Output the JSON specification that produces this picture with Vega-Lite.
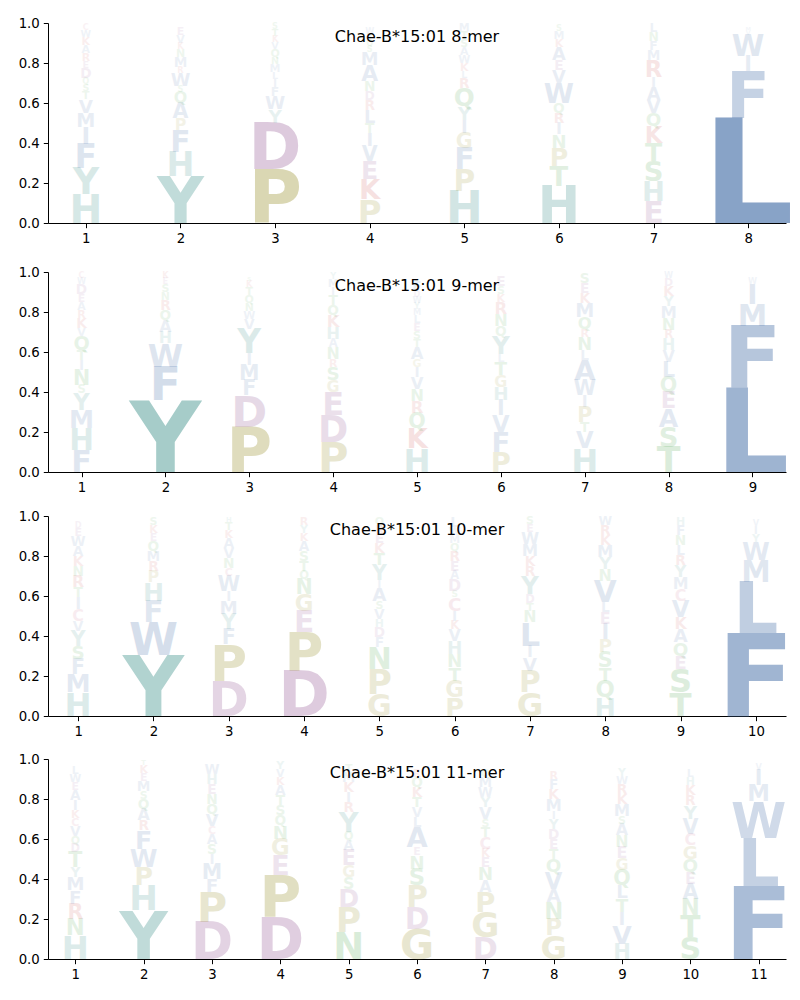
{
"$schema": "https://vega.github.io/schema/vega-lite/v6.json",
"padding": {"left": 18, "top": 16, "right": 0, "bottom": 0},
"spacing": 13,
"config": {"view": {"stroke": null}, "axis": {"domainColor": "black", "tickColor": "black", "labelColor": "black", "labelFont": "DejaVu Sans", "labelFontSize": 13.3, "tickSize": 4.7, "labelPadding": 4, "grid": false, "domainWidth": 1, "tickWidth": 1}, "title": {"font": "DejaVu Sans", "fontSize": 16, "fontWeight": "normal", "color": "black"}},
"data": {"values": [
{"k":8,"p":1,"a":"H","h":0.143},{"k":8,"p":1,"a":"Y","h":0.133},{"k":8,"p":1,"a":"F","h":0.12},{"k":8,"p":1,"a":"I","h":0.085},{"k":8,"p":1,"a":"M","h":0.07},{"k":8,"p":1,"a":"V","h":0.067},{"k":8,"p":1,"a":"T","h":0.04},{"k":8,"p":1,"a":"S","h":0.035},{"k":8,"p":1,"a":"Q","h":0.03},{"k":8,"p":1,"a":"D","h":0.05},{"k":8,"p":1,"a":"E","h":0.035},{"k":8,"p":1,"a":"R","h":0.04},{"k":8,"p":1,"a":"A","h":0.04},{"k":8,"p":1,"a":"K","h":0.04},{"k":8,"p":1,"a":"W","h":0.035},{"k":8,"p":1,"a":"C","h":0.03},
{"k":8,"p":2,"a":"Y","h":0.235},{"k":8,"p":2,"a":"H","h":0.122},{"k":8,"p":2,"a":"F","h":0.108},{"k":8,"p":2,"a":"P","h":0.058},{"k":8,"p":2,"a":"A","h":0.075},{"k":8,"p":2,"a":"Q","h":0.058},{"k":8,"p":2,"a":"S","h":0.03},{"k":8,"p":2,"a":"W","h":0.065},{"k":8,"p":2,"a":"R","h":0.03},{"k":8,"p":2,"a":"M","h":0.05},{"k":8,"p":2,"a":"N","h":0.04},{"k":8,"p":2,"a":"K","h":0.03},{"k":8,"p":2,"a":"V","h":0.04},{"k":8,"p":2,"a":"E","h":0.04},
{"k":8,"p":3,"a":"P","h":0.268},{"k":8,"p":3,"a":"D","h":0.233},{"k":8,"p":3,"a":"Y","h":0.067},{"k":8,"p":3,"a":"W","h":0.067},{"k":8,"p":3,"a":"F","h":0.045},{"k":8,"p":3,"a":"I","h":0.04},{"k":8,"p":3,"a":"L","h":0.035},{"k":8,"p":3,"a":"M","h":0.04},{"k":8,"p":3,"a":"N","h":0.035},{"k":8,"p":3,"a":"Q","h":0.04},{"k":8,"p":3,"a":"V","h":0.035},{"k":8,"p":3,"a":"K","h":0.03},{"k":8,"p":3,"a":"T","h":0.035},{"k":8,"p":3,"a":"S","h":0.03},
{"k":8,"p":4,"a":"P","h":0.118},{"k":8,"p":4,"a":"K","h":0.1},{"k":8,"p":4,"a":"E","h":0.092},{"k":8,"p":4,"a":"V","h":0.075},{"k":8,"p":4,"a":"I","h":0.065},{"k":8,"p":4,"a":"T","h":0.05},{"k":8,"p":4,"a":"L","h":0.065},{"k":8,"p":4,"a":"R","h":0.05},{"k":8,"p":4,"a":"D","h":0.045},{"k":8,"p":4,"a":"N","h":0.05},{"k":8,"p":4,"a":"A","h":0.08},{"k":8,"p":4,"a":"M","h":0.065},{"k":8,"p":4,"a":"S","h":0.03},{"k":8,"p":4,"a":"Q","h":0.03},{"k":8,"p":4,"a":"Y","h":0.03},{"k":8,"p":4,"a":"W","h":0.03},
{"k":8,"p":5,"a":"H","h":0.16},{"k":8,"p":5,"a":"P","h":0.108},{"k":8,"p":5,"a":"F","h":0.108},{"k":8,"p":5,"a":"G","h":0.075},{"k":8,"p":5,"a":"I","h":0.065},{"k":8,"p":5,"a":"Y","h":0.067},{"k":8,"p":5,"a":"Q","h":0.09},{"k":8,"p":5,"a":"R","h":0.05},{"k":8,"p":5,"a":"L","h":0.035},{"k":8,"p":5,"a":"K","h":0.04},{"k":8,"p":5,"a":"W","h":0.04},{"k":8,"p":5,"a":"A","h":0.04},{"k":8,"p":5,"a":"S","h":0.04},{"k":8,"p":5,"a":"T","h":0.04},{"k":8,"p":5,"a":"M","h":0.04},
{"k":8,"p":6,"a":"H","h":0.185},{"k":8,"p":6,"a":"T","h":0.1},{"k":8,"p":6,"a":"P","h":0.092},{"k":8,"p":6,"a":"N","h":0.067},{"k":8,"p":6,"a":"I","h":0.058},{"k":8,"p":6,"a":"R","h":0.05},{"k":8,"p":6,"a":"Q","h":0.05},{"k":8,"p":6,"a":"W","h":0.1},{"k":8,"p":6,"a":"V","h":0.065},{"k":8,"p":6,"a":"E","h":0.05},{"k":8,"p":6,"a":"A","h":0.065},{"k":8,"p":6,"a":"K","h":0.04},{"k":8,"p":6,"a":"M","h":0.04},{"k":8,"p":6,"a":"S","h":0.03},
{"k":8,"p":7,"a":"E","h":0.11},{"k":8,"p":7,"a":"H","h":0.1},{"k":8,"p":7,"a":"S","h":0.1},{"k":8,"p":7,"a":"T","h":0.092},{"k":8,"p":7,"a":"K","h":0.083},{"k":8,"p":7,"a":"Q","h":0.067},{"k":8,"p":7,"a":"V","h":0.065},{"k":8,"p":7,"a":"A","h":0.065},{"k":8,"p":7,"a":"I","h":0.05},{"k":8,"p":7,"a":"R","h":0.083},{"k":8,"p":7,"a":"M","h":0.05},{"k":8,"p":7,"a":"F","h":0.045},{"k":8,"p":7,"a":"N","h":0.045},{"k":8,"p":7,"a":"L","h":0.045},
{"k":8,"p":8,"a":"L","h":0.525},{"k":8,"p":8,"a":"F","h":0.233},{"k":8,"p":8,"a":"I","h":0.075},{"k":8,"p":8,"a":"W","h":0.108},{"k":8,"p":8,"a":"V","h":0.02},{"k":8,"p":8,"a":"M","h":0.02},
{"k":9,"p":1,"a":"F","h":0.11},{"k":9,"p":1,"a":"H","h":0.108},{"k":9,"p":1,"a":"M","h":0.092},{"k":9,"p":1,"a":"Y","h":0.083},{"k":9,"p":1,"a":"S","h":0.042},{"k":9,"p":1,"a":"N","h":0.075},{"k":9,"p":1,"a":"I","h":0.05},{"k":9,"p":1,"a":"T","h":0.05},{"k":9,"p":1,"a":"Q","h":0.07},{"k":9,"p":1,"a":"V","h":0.04},{"k":9,"p":1,"a":"K","h":0.05},{"k":9,"p":1,"a":"R","h":0.04},{"k":9,"p":1,"a":"A","h":0.04},{"k":9,"p":1,"a":"E","h":0.04},{"k":9,"p":1,"a":"D","h":0.05},{"k":9,"p":1,"a":"W","h":0.03},{"k":9,"p":1,"a":"C","h":0.03},
{"k":9,"p":2,"a":"Y","h":0.36},{"k":9,"p":2,"a":"F","h":0.167},{"k":9,"p":2,"a":"W","h":0.117},{"k":9,"p":2,"a":"H","h":0.058},{"k":9,"p":2,"a":"A","h":0.058},{"k":9,"p":2,"a":"Q","h":0.05},{"k":9,"p":2,"a":"R","h":0.05},{"k":9,"p":2,"a":"N","h":0.04},{"k":9,"p":2,"a":"S","h":0.04},{"k":9,"p":2,"a":"E","h":0.03},{"k":9,"p":2,"a":"K","h":0.03},
{"k":9,"p":3,"a":"P","h":0.227},{"k":9,"p":3,"a":"D","h":0.158},{"k":9,"p":3,"a":"F","h":0.075},{"k":9,"p":3,"a":"M","h":0.075},{"k":9,"p":3,"a":"I","h":0.058},{"k":9,"p":3,"a":"Y","h":0.12},{"k":9,"p":3,"a":"V","h":0.05},{"k":9,"p":3,"a":"W","h":0.04},{"k":9,"p":3,"a":"N","h":0.04},{"k":9,"p":3,"a":"Q","h":0.04},{"k":9,"p":3,"a":"T","h":0.04},{"k":9,"p":3,"a":"K","h":0.03},{"k":9,"p":3,"a":"S","h":0.02},
{"k":9,"p":4,"a":"P","h":0.152},{"k":9,"p":4,"a":"D","h":0.133},{"k":9,"p":4,"a":"E","h":0.117},{"k":9,"p":4,"a":"G","h":0.058},{"k":9,"p":4,"a":"S","h":0.067},{"k":9,"p":4,"a":"R","h":0.04},{"k":9,"p":4,"a":"N","h":0.058},{"k":9,"p":4,"a":"A","h":0.042},{"k":9,"p":4,"a":"H","h":0.06},{"k":9,"p":4,"a":"K","h":0.06},{"k":9,"p":4,"a":"Q","h":0.05},{"k":9,"p":4,"a":"T","h":0.05},{"k":9,"p":4,"a":"I","h":0.04},{"k":9,"p":4,"a":"M","h":0.04},{"k":9,"p":4,"a":"Y","h":0.03},
{"k":9,"p":5,"a":"H","h":0.118},{"k":9,"p":5,"a":"K","h":0.1},{"k":9,"p":5,"a":"Q","h":0.075},{"k":9,"p":5,"a":"R","h":0.06},{"k":9,"p":5,"a":"N","h":0.06},{"k":9,"p":5,"a":"V","h":0.06},{"k":9,"p":5,"a":"I","h":0.05},{"k":9,"p":5,"a":"G","h":0.04},{"k":9,"p":5,"a":"A","h":0.06},{"k":9,"p":5,"a":"T","h":0.04},{"k":9,"p":5,"a":"S","h":0.04},{"k":9,"p":5,"a":"E","h":0.04},{"k":9,"p":5,"a":"L","h":0.04},{"k":9,"p":5,"a":"M","h":0.03},{"k":9,"p":5,"a":"Y","h":0.03},{"k":9,"p":5,"a":"W","h":0.03},{"k":9,"p":5,"a":"D","h":0.03},{"k":9,"p":5,"a":"F","h":0.05},
{"k":9,"p":6,"a":"P","h":0.1},{"k":9,"p":6,"a":"F","h":0.1},{"k":9,"p":6,"a":"V","h":0.083},{"k":9,"p":6,"a":"I","h":0.075},{"k":9,"p":6,"a":"H","h":0.067},{"k":9,"p":6,"a":"G","h":0.058},{"k":9,"p":6,"a":"T","h":0.067},{"k":9,"p":6,"a":"L","h":0.04},{"k":9,"p":6,"a":"Y","h":0.09},{"k":9,"p":6,"a":"Q","h":0.05},{"k":9,"p":6,"a":"N","h":0.06},{"k":9,"p":6,"a":"R","h":0.06},{"k":9,"p":6,"a":"K","h":0.04},{"k":9,"p":6,"a":"S","h":0.04},{"k":9,"p":6,"a":"E","h":0.05},
{"k":9,"p":7,"a":"H","h":0.118},{"k":9,"p":7,"a":"V","h":0.083},{"k":9,"p":7,"a":"T","h":0.05},{"k":9,"p":7,"a":"P","h":0.075},{"k":9,"p":7,"a":"I","h":0.058},{"k":9,"p":7,"a":"W","h":0.075},{"k":9,"p":7,"a":"A","h":0.1},{"k":9,"p":7,"a":"L","h":0.05},{"k":9,"p":7,"a":"N","h":0.065},{"k":9,"p":7,"a":"R","h":0.04},{"k":9,"p":7,"a":"Q","h":0.06},{"k":9,"p":7,"a":"M","h":0.07},{"k":9,"p":7,"a":"K","h":0.05},{"k":9,"p":7,"a":"E","h":0.05},{"k":9,"p":7,"a":"S","h":0.05},
{"k":9,"p":8,"a":"T","h":0.127},{"k":9,"p":8,"a":"S","h":0.1},{"k":9,"p":8,"a":"A","h":0.092},{"k":9,"p":8,"a":"E","h":0.083},{"k":9,"p":8,"a":"Q","h":0.075},{"k":9,"p":8,"a":"L","h":0.075},{"k":9,"p":8,"a":"V","h":0.058},{"k":9,"p":8,"a":"H","h":0.058},{"k":9,"p":8,"a":"R","h":0.042},{"k":9,"p":8,"a":"N","h":0.06},{"k":9,"p":8,"a":"M","h":0.06},{"k":9,"p":8,"a":"Y","h":0.05},{"k":9,"p":8,"a":"K","h":0.05},{"k":9,"p":8,"a":"D","h":0.04},{"k":9,"p":8,"a":"W","h":0.03},
{"k":9,"p":9,"a":"L","h":0.42},{"k":9,"p":9,"a":"F","h":0.31},{"k":9,"p":9,"a":"M","h":0.108},{"k":9,"p":9,"a":"I","h":0.1},{"k":9,"p":9,"a":"W","h":0.03},
{"k":10,"p":1,"a":"H","h":0.118},{"k":10,"p":1,"a":"M","h":0.092},{"k":10,"p":1,"a":"F","h":0.075},{"k":10,"p":1,"a":"S","h":0.067},{"k":10,"p":1,"a":"Y","h":0.075},{"k":10,"p":1,"a":"V","h":0.05},{"k":10,"p":1,"a":"C","h":0.058},{"k":10,"p":1,"a":"I","h":0.058},{"k":10,"p":1,"a":"T","h":0.05},{"k":10,"p":1,"a":"R","h":0.058},{"k":10,"p":1,"a":"N","h":0.05},{"k":10,"p":1,"a":"K","h":0.05},{"k":10,"p":1,"a":"A","h":0.05},{"k":10,"p":1,"a":"W","h":0.05},{"k":10,"p":1,"a":"E","h":0.04},{"k":10,"p":1,"a":"D","h":0.03},
{"k":10,"p":2,"a":"Y","h":0.307},{"k":10,"p":2,"a":"W","h":0.162},{"k":10,"p":2,"a":"F","h":0.108},{"k":10,"p":2,"a":"H","h":0.092},{"k":10,"p":2,"a":"P","h":0.058},{"k":10,"p":2,"a":"R","h":0.05},{"k":10,"p":2,"a":"M","h":0.05},{"k":10,"p":2,"a":"Q","h":0.05},{"k":10,"p":2,"a":"E","h":0.04},{"k":10,"p":2,"a":"K","h":0.04},{"k":10,"p":2,"a":"S","h":0.04},
{"k":10,"p":3,"a":"D","h":0.177},{"k":10,"p":3,"a":"P","h":0.183},{"k":10,"p":3,"a":"F","h":0.075},{"k":10,"p":3,"a":"Y","h":0.075},{"k":10,"p":3,"a":"M","h":0.067},{"k":10,"p":3,"a":"I","h":0.05},{"k":10,"p":3,"a":"W","h":0.075},{"k":10,"p":3,"a":"C","h":0.04},{"k":10,"p":3,"a":"N","h":0.05},{"k":10,"p":3,"a":"V","h":0.05},{"k":10,"p":3,"a":"A","h":0.05},{"k":10,"p":3,"a":"K","h":0.04},{"k":10,"p":3,"a":"T","h":0.04},{"k":10,"p":3,"a":"H","h":0.025},
{"k":10,"p":4,"a":"D","h":0.227},{"k":10,"p":4,"a":"P","h":0.192},{"k":10,"p":4,"a":"E","h":0.108},{"k":10,"p":4,"a":"G","h":0.083},{"k":10,"p":4,"a":"N","h":0.075},{"k":10,"p":4,"a":"Q","h":0.042},{"k":10,"p":4,"a":"T","h":0.05},{"k":10,"p":4,"a":"S","h":0.05},{"k":10,"p":4,"a":"A","h":0.05},{"k":10,"p":4,"a":"K","h":0.04},{"k":10,"p":4,"a":"Y","h":0.04},{"k":10,"p":4,"a":"R","h":0.04},
{"k":10,"p":5,"a":"G","h":0.11},{"k":10,"p":5,"a":"P","h":0.125},{"k":10,"p":5,"a":"N","h":0.108},{"k":10,"p":5,"a":"F","h":0.05},{"k":10,"p":5,"a":"D","h":0.05},{"k":10,"p":5,"a":"H","h":0.04},{"k":10,"p":5,"a":"V","h":0.05},{"k":10,"p":5,"a":"S","h":0.04},{"k":10,"p":5,"a":"A","h":0.067},{"k":10,"p":5,"a":"I","h":0.04},{"k":10,"p":5,"a":"Y","h":0.075},{"k":10,"p":5,"a":"T","h":0.06},{"k":10,"p":5,"a":"K","h":0.05},{"k":10,"p":5,"a":"E","h":0.05},{"k":10,"p":5,"a":"R","h":0.04},{"k":10,"p":5,"a":"Q","h":0.04},
{"k":10,"p":6,"a":"P","h":0.093},{"k":10,"p":6,"a":"G","h":0.083},{"k":10,"p":6,"a":"T","h":0.067},{"k":10,"p":6,"a":"N","h":0.067},{"k":10,"p":6,"a":"H","h":0.067},{"k":10,"p":6,"a":"V","h":0.058},{"k":10,"p":6,"a":"K","h":0.042},{"k":10,"p":6,"a":"I","h":0.05},{"k":10,"p":6,"a":"C","h":0.067},{"k":10,"p":6,"a":"S","h":0.033},{"k":10,"p":6,"a":"D","h":0.058},{"k":10,"p":6,"a":"A","h":0.042},{"k":10,"p":6,"a":"E","h":0.05},{"k":10,"p":6,"a":"R","h":0.05},{"k":10,"p":6,"a":"Q","h":0.04},{"k":10,"p":6,"a":"M","h":0.04},{"k":10,"p":6,"a":"W","h":0.04},{"k":10,"p":6,"a":"L","h":0.05},
{"k":10,"p":7,"a":"G","h":0.118},{"k":10,"p":7,"a":"P","h":0.108},{"k":10,"p":7,"a":"V","h":0.067},{"k":10,"p":7,"a":"I","h":0.058},{"k":10,"p":7,"a":"L","h":0.117},{"k":10,"p":7,"a":"N","h":0.058},{"k":10,"p":7,"a":"T","h":0.04},{"k":10,"p":7,"a":"D","h":0.042},{"k":10,"p":7,"a":"Y","h":0.09},{"k":10,"p":7,"a":"R","h":0.05},{"k":10,"p":7,"a":"K","h":0.05},{"k":10,"p":7,"a":"M","h":0.06},{"k":10,"p":7,"a":"W","h":0.06},{"k":10,"p":7,"a":"E","h":0.04},{"k":10,"p":7,"a":"S","h":0.04},
{"k":10,"p":8,"a":"H","h":0.093},{"k":10,"p":8,"a":"Q","h":0.083},{"k":10,"p":8,"a":"T","h":0.067},{"k":10,"p":8,"a":"S","h":0.075},{"k":10,"p":8,"a":"P","h":0.067},{"k":10,"p":8,"a":"I","h":0.075},{"k":10,"p":8,"a":"E","h":0.058},{"k":10,"p":8,"a":"L","h":0.05},{"k":10,"p":8,"a":"V","h":0.108},{"k":10,"p":8,"a":"N","h":0.058},{"k":10,"p":8,"a":"Y","h":0.06},{"k":10,"p":8,"a":"M","h":0.06},{"k":10,"p":8,"a":"K","h":0.05},{"k":10,"p":8,"a":"R","h":0.05},{"k":10,"p":8,"a":"W","h":0.045},
{"k":10,"p":9,"a":"T","h":0.118},{"k":10,"p":9,"a":"S","h":0.117},{"k":10,"p":9,"a":"E","h":0.067},{"k":10,"p":9,"a":"Q","h":0.067},{"k":10,"p":9,"a":"A","h":0.067},{"k":10,"p":9,"a":"K","h":0.058},{"k":10,"p":9,"a":"V","h":0.083},{"k":10,"p":9,"a":"C","h":0.058},{"k":10,"p":9,"a":"M","h":0.058},{"k":10,"p":9,"a":"Y","h":0.06},{"k":10,"p":9,"a":"R","h":0.05},{"k":10,"p":9,"a":"L","h":0.05},{"k":10,"p":9,"a":"N","h":0.05},{"k":10,"p":9,"a":"F","h":0.05},{"k":10,"p":9,"a":"H","h":0.04},
{"k":10,"p":10,"a":"F","h":0.413},{"k":10,"p":10,"a":"L","h":0.258},{"k":10,"p":10,"a":"M","h":0.108},{"k":10,"p":10,"a":"W","h":0.092},{"k":10,"p":10,"a":"Y","h":0.04},{"k":10,"p":10,"a":"I","h":0.04},{"k":10,"p":10,"a":"V","h":0.03},
{"k":11,"p":1,"a":"H","h":0.118},{"k":11,"p":1,"a":"N","h":0.083},{"k":11,"p":1,"a":"R","h":0.075},{"k":11,"p":1,"a":"F","h":0.067},{"k":11,"p":1,"a":"M","h":0.067},{"k":11,"p":1,"a":"Y","h":0.05},{"k":11,"p":1,"a":"T","h":0.075},{"k":11,"p":1,"a":"D","h":0.042},{"k":11,"p":1,"a":"Q","h":0.04},{"k":11,"p":1,"a":"V","h":0.05},{"k":11,"p":1,"a":"C","h":0.04},{"k":11,"p":1,"a":"K","h":0.04},{"k":11,"p":1,"a":"I","h":0.05},{"k":11,"p":1,"a":"A","h":0.05},{"k":11,"p":1,"a":"E","h":0.04},{"k":11,"p":1,"a":"W","h":0.04},{"k":11,"p":1,"a":"L","h":0.04},
{"k":11,"p":2,"a":"Y","h":0.243},{"k":11,"p":2,"a":"H","h":0.125},{"k":11,"p":2,"a":"P","h":0.092},{"k":11,"p":2,"a":"W","h":0.092},{"k":11,"p":2,"a":"F","h":0.092},{"k":11,"p":2,"a":"R","h":0.05},{"k":11,"p":2,"a":"A","h":0.058},{"k":11,"p":2,"a":"Q","h":0.05},{"k":11,"p":2,"a":"S","h":0.04},{"k":11,"p":2,"a":"M","h":0.05},{"k":11,"p":2,"a":"E","h":0.04},{"k":11,"p":2,"a":"K","h":0.04},{"k":11,"p":2,"a":"T","h":0.025},
{"k":11,"p":3,"a":"D","h":0.185},{"k":11,"p":3,"a":"P","h":0.15},{"k":11,"p":3,"a":"F","h":0.067},{"k":11,"p":3,"a":"M","h":0.075},{"k":11,"p":3,"a":"I","h":0.05},{"k":11,"p":3,"a":"S","h":0.05},{"k":11,"p":3,"a":"A","h":0.05},{"k":11,"p":3,"a":"C","h":0.04},{"k":11,"p":3,"a":"V","h":0.06},{"k":11,"p":3,"a":"Q","h":0.05},{"k":11,"p":3,"a":"N","h":0.05},{"k":11,"p":3,"a":"E","h":0.05},{"k":11,"p":3,"a":"H","h":0.05},{"k":11,"p":3,"a":"W","h":0.05},
{"k":11,"p":4,"a":"D","h":0.21},{"k":11,"p":4,"a":"P","h":0.208},{"k":11,"p":4,"a":"E","h":0.1},{"k":11,"p":4,"a":"G","h":0.083},{"k":11,"p":4,"a":"N","h":0.067},{"k":11,"p":4,"a":"Q","h":0.05},{"k":11,"p":4,"a":"S","h":0.05},{"k":11,"p":4,"a":"T","h":0.05},{"k":11,"p":4,"a":"A","h":0.05},{"k":11,"p":4,"a":"K","h":0.04},{"k":11,"p":4,"a":"V","h":0.04},{"k":11,"p":4,"a":"Y","h":0.04},
{"k":11,"p":5,"a":"N","h":0.135},{"k":11,"p":5,"a":"P","h":0.125},{"k":11,"p":5,"a":"D","h":0.092},{"k":11,"p":5,"a":"S","h":0.058},{"k":11,"p":5,"a":"G","h":0.058},{"k":11,"p":5,"a":"E","h":0.075},{"k":11,"p":5,"a":"A","h":0.05},{"k":11,"p":5,"a":"Q","h":0.042},{"k":11,"p":5,"a":"Y","h":0.1},{"k":11,"p":5,"a":"R","h":0.05},{"k":11,"p":5,"a":"I","h":0.05},{"k":11,"p":5,"a":"K","h":0.05},{"k":11,"p":5,"a":"M","h":0.05},{"k":11,"p":5,"a":"T","h":0.04},
{"k":11,"p":6,"a":"G","h":0.152},{"k":11,"p":6,"a":"D","h":0.108},{"k":11,"p":6,"a":"P","h":0.108},{"k":11,"p":6,"a":"S","h":0.083},{"k":11,"p":6,"a":"N","h":0.067},{"k":11,"p":6,"a":"E","h":0.04},{"k":11,"p":6,"a":"A","h":0.1},{"k":11,"p":6,"a":"L","h":0.05},{"k":11,"p":6,"a":"V","h":0.05},{"k":11,"p":6,"a":"T","h":0.05},{"k":11,"p":6,"a":"K","h":0.05},{"k":11,"p":6,"a":"Q","h":0.05},{"k":11,"p":6,"a":"R","h":0.04},
{"k":11,"p":7,"a":"D","h":0.11},{"k":11,"p":7,"a":"G","h":0.125},{"k":11,"p":7,"a":"P","h":0.1},{"k":11,"p":7,"a":"A","h":0.058},{"k":11,"p":7,"a":"N","h":0.067},{"k":11,"p":7,"a":"E","h":0.05},{"k":11,"p":7,"a":"K","h":0.042},{"k":11,"p":7,"a":"C","h":0.058},{"k":11,"p":7,"a":"T","h":0.05},{"k":11,"p":7,"a":"S","h":0.04},{"k":11,"p":7,"a":"V","h":0.06},{"k":11,"p":7,"a":"Y","h":0.05},{"k":11,"p":7,"a":"W","h":0.05},{"k":11,"p":7,"a":"M","h":0.05},{"k":11,"p":7,"a":"Q","h":0.04},
{"k":11,"p":8,"a":"G","h":0.118},{"k":11,"p":8,"a":"P","h":0.083},{"k":11,"p":8,"a":"N","h":0.083},{"k":11,"p":8,"a":"A","h":0.067},{"k":11,"p":8,"a":"V","h":0.083},{"k":11,"p":8,"a":"Q","h":0.067},{"k":11,"p":8,"a":"T","h":0.05},{"k":11,"p":8,"a":"E","h":0.05},{"k":11,"p":8,"a":"D","h":0.05},{"k":11,"p":8,"a":"Y","h":0.05},{"k":11,"p":8,"a":"I","h":0.04},{"k":11,"p":8,"a":"M","h":0.06},{"k":11,"p":8,"a":"K","h":0.05},{"k":11,"p":8,"a":"F","h":0.05},{"k":11,"p":8,"a":"R","h":0.04},
{"k":11,"p":9,"a":"H","h":0.077},{"k":11,"p":9,"a":"V","h":0.092},{"k":11,"p":9,"a":"I","h":0.067},{"k":11,"p":9,"a":"T","h":0.067},{"k":11,"p":9,"a":"L","h":0.067},{"k":11,"p":9,"a":"Q","h":0.075},{"k":11,"p":9,"a":"G","h":0.058},{"k":11,"p":9,"a":"E","h":0.058},{"k":11,"p":9,"a":"N","h":0.058},{"k":11,"p":9,"a":"A","h":0.058},{"k":11,"p":9,"a":"S","h":0.04},{"k":11,"p":9,"a":"M","h":0.06},{"k":11,"p":9,"a":"K","h":0.05},{"k":11,"p":9,"a":"R","h":0.05},{"k":11,"p":9,"a":"W","h":0.04},{"k":11,"p":9,"a":"Y","h":0.04},
{"k":11,"p":10,"a":"S","h":0.11},{"k":11,"p":10,"a":"T","h":0.108},{"k":11,"p":10,"a":"N","h":0.083},{"k":11,"p":10,"a":"A","h":0.075},{"k":11,"p":10,"a":"E","h":0.058},{"k":11,"p":10,"a":"Q","h":0.067},{"k":11,"p":10,"a":"G","h":0.067},{"k":11,"p":10,"a":"C","h":0.058},{"k":11,"p":10,"a":"V","h":0.075},{"k":11,"p":10,"a":"Y","h":0.067},{"k":11,"p":10,"a":"R","h":0.05},{"k":11,"p":10,"a":"K","h":0.05},{"k":11,"p":10,"a":"H","h":0.04},{"k":11,"p":10,"a":"L","h":0.04},
{"k":11,"p":11,"a":"F","h":0.363},{"k":11,"p":11,"a":"L","h":0.242},{"k":11,"p":11,"a":"W","h":0.183},{"k":11,"p":11,"a":"M","h":0.083},{"k":11,"p":11,"a":"I","h":0.075},{"k":11,"p":11,"a":"V","h":0.03}
]},
"vconcat": [
{"width": 738, "height": 200,
 "title": {"text": "Chae-B*15:01 8-mer", "offset": -29, "frame": "group", "anchor": "middle"},
 "transform": [{"filter": "datum.k == 8"}, {"window": [{"op": "row_number", "as": "o"}], "groupby": ["p"]}, {"stack": "h", "groupby": ["p"], "sort": [{"field": "o", "order": "ascending"}], "as": ["y0", "y1"]}],
 "mark": {"type": "text", "baseline": "alphabetic", "align": "center", "font": "DejaVu Sans", "fontWeight": "bold"},
 "encoding": {
  "x": {"field": "p", "type": "quantitative", "title": null, "scale": {"domain": [0.6, 8.4]}, "axis": {"values": [1,2,3,4,5,6,7,8], "format": "d"}},
  "y": {"field": "y0", "type": "quantitative", "title": null, "scale": {"domain": [0, 1]}, "axis": {"values": [0,0.2,0.4,0.6,0.8,1], "format": ".1f"}},
  "text": {"field": "a"},
  "size": {"field": "h", "type": "quantitative", "scale": {"domain": [0, 1], "range": [0, 274]}, "legend": null},
  "color": {"field": "a", "type": "nominal", "legend": null, "scale": {"domain": ["A","V","I","L","M","F","W","H","Y","P","G","D","E","K","R","C","S","T","N","Q"], "range": ["#4a72aa","#4a72aa","#4a72aa","#4a72aa","#4a72aa","#4a72aa","#4a72aa","#3e928b","#3e928b","#98902a","#98902a","#955895","#955895","#c84848","#c84848","#c05878","#44a044","#44a044","#44a044","#44a044"]}},
  "opacity": {"field": "h", "type": "quantitative", "legend": null, "scale": {"domain": [0, 0.6], "range": [0.04, 0.74]}}
 }},
{"width": 738, "height": 200,
 "title": {"text": "Chae-B*15:01 9-mer", "offset": -29, "frame": "group", "anchor": "middle"},
 "transform": [{"filter": "datum.k == 9"}, {"window": [{"op": "row_number", "as": "o"}], "groupby": ["p"]}, {"stack": "h", "groupby": ["p"], "sort": [{"field": "o", "order": "ascending"}], "as": ["y0", "y1"]}],
 "mark": {"type": "text", "baseline": "alphabetic", "align": "center", "font": "DejaVu Sans", "fontWeight": "bold"},
 "encoding": {
  "x": {"field": "p", "type": "quantitative", "title": null, "scale": {"domain": [0.6, 9.4]}, "axis": {"values": [1,2,3,4,5,6,7,8,9], "format": "d"}},
  "y": {"field": "y0", "type": "quantitative", "title": null, "scale": {"domain": [0, 1]}, "axis": {"values": [0,0.2,0.4,0.6,0.8,1], "format": ".1f"}},
  "text": {"field": "a"},
  "size": {"field": "h", "type": "quantitative", "scale": {"domain": [0, 1], "range": [0, 274]}, "legend": null},
  "color": {"field": "a", "type": "nominal", "legend": null, "scale": {"domain": ["A","V","I","L","M","F","W","H","Y","P","G","D","E","K","R","C","S","T","N","Q"], "range": ["#4a72aa","#4a72aa","#4a72aa","#4a72aa","#4a72aa","#4a72aa","#4a72aa","#3e928b","#3e928b","#98902a","#98902a","#955895","#955895","#c84848","#c84848","#c05878","#44a044","#44a044","#44a044","#44a044"]}},
  "opacity": {"field": "h", "type": "quantitative", "legend": null, "scale": {"domain": [0, 0.6], "range": [0.04, 0.74]}}
 }},
{"width": 738, "height": 200,
 "title": {"text": "Chae-B*15:01 10-mer", "offset": -29, "frame": "group", "anchor": "middle"},
 "transform": [{"filter": "datum.k == 10"}, {"window": [{"op": "row_number", "as": "o"}], "groupby": ["p"]}, {"stack": "h", "groupby": ["p"], "sort": [{"field": "o", "order": "ascending"}], "as": ["y0", "y1"]}],
 "mark": {"type": "text", "baseline": "alphabetic", "align": "center", "font": "DejaVu Sans", "fontWeight": "bold"},
 "encoding": {
  "x": {"field": "p", "type": "quantitative", "title": null, "scale": {"domain": [0.6, 10.4]}, "axis": {"values": [1,2,3,4,5,6,7,8,9,10], "format": "d"}},
  "y": {"field": "y0", "type": "quantitative", "title": null, "scale": {"domain": [0, 1]}, "axis": {"values": [0,0.2,0.4,0.6,0.8,1], "format": ".1f"}},
  "text": {"field": "a"},
  "size": {"field": "h", "type": "quantitative", "scale": {"domain": [0, 1], "range": [0, 274]}, "legend": null},
  "color": {"field": "a", "type": "nominal", "legend": null, "scale": {"domain": ["A","V","I","L","M","F","W","H","Y","P","G","D","E","K","R","C","S","T","N","Q"], "range": ["#4a72aa","#4a72aa","#4a72aa","#4a72aa","#4a72aa","#4a72aa","#4a72aa","#3e928b","#3e928b","#98902a","#98902a","#955895","#955895","#c84848","#c84848","#c05878","#44a044","#44a044","#44a044","#44a044"]}},
  "opacity": {"field": "h", "type": "quantitative", "legend": null, "scale": {"domain": [0, 0.6], "range": [0.04, 0.74]}}
 }},
{"width": 738, "height": 200,
 "title": {"text": "Chae-B*15:01 11-mer", "offset": -29, "frame": "group", "anchor": "middle"},
 "transform": [{"filter": "datum.k == 11"}, {"window": [{"op": "row_number", "as": "o"}], "groupby": ["p"]}, {"stack": "h", "groupby": ["p"], "sort": [{"field": "o", "order": "ascending"}], "as": ["y0", "y1"]}],
 "mark": {"type": "text", "baseline": "alphabetic", "align": "center", "font": "DejaVu Sans", "fontWeight": "bold"},
 "encoding": {
  "x": {"field": "p", "type": "quantitative", "title": null, "scale": {"domain": [0.6, 11.4]}, "axis": {"values": [1,2,3,4,5,6,7,8,9,10,11], "format": "d"}},
  "y": {"field": "y0", "type": "quantitative", "title": null, "scale": {"domain": [0, 1]}, "axis": {"values": [0,0.2,0.4,0.6,0.8,1], "format": ".1f"}},
  "text": {"field": "a"},
  "size": {"field": "h", "type": "quantitative", "scale": {"domain": [0, 1], "range": [0, 274]}, "legend": null},
  "color": {"field": "a", "type": "nominal", "legend": null, "scale": {"domain": ["A","V","I","L","M","F","W","H","Y","P","G","D","E","K","R","C","S","T","N","Q"], "range": ["#4a72aa","#4a72aa","#4a72aa","#4a72aa","#4a72aa","#4a72aa","#4a72aa","#3e928b","#3e928b","#98902a","#98902a","#955895","#955895","#c84848","#c84848","#c05878","#44a044","#44a044","#44a044","#44a044"]}},
  "opacity": {"field": "h", "type": "quantitative", "legend": null, "scale": {"domain": [0, 0.6], "range": [0.04, 0.74]}}
 }}
]
}
